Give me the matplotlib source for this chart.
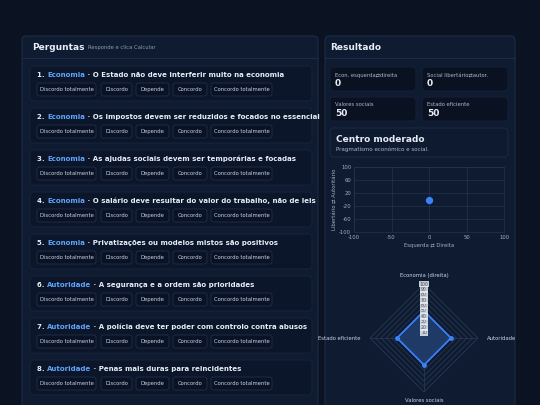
import numpy as np
import matplotlib
matplotlib.use("Agg")
import matplotlib.pyplot as plt
from matplotlib.patches import FancyBboxPatch

plt.rcParams["axes.unicode_minus"] = False

# dados
categorias = ["Economia"] * 5 + ["Autoridade"] * 3
perguntas = [
    "O Estado não deve interferir muito na economia",
    "Os impostos devem ser reduzidos e focados no essencial",
    "As ajudas sociais devem ser temporárias e focadas",
    "O salário deve resultar do valor do trabalho, não de leis",
    "Privatizações ou modelos mistos são positivos",
    "A segurança e a ordem são prioridades",
    "A polícia deve ter poder com controlo contra abusos",
    "Penas mais duras para reincidentes",
]
opcoes = ["Discordo totalmente", "Discordo", "Depende", "Concordo", "Concordo totalmente"]
stat_nomes = ["Econ. esquerda⇄direita", "Social libertário⇄autor.", "Valores sociais", "Estado eficiente"]
stat_valores = [0, 0, 50, 50]
ponto_x = [0]
ponto_y = [0]
radar_eixos = ["Economia (direita)", "Estado eficiente", "Valores sociais", "Autoridade"]
radar_valores = [50, 50, 50, 50]

bg = "#0b1322"
painel = "#0f1b31"
card = "#0c162a"
borda = "#22324d"
azul = "#3b82f6"
txt = "#e6edf7"
sub = "#8a9bb5"

fig = plt.figure(figsize=(5.4, 4.05), dpi=100)
fig.patch.set_facecolor(bg)
ov = fig.add_axes([0, 0, 1, 1])
ov.set_xlim(0, 540)
ov.set_ylim(405, 0)
ov.axis("off")
ov.set_zorder(0)

def caixa(x0, y0, x1, y1, fc, ec=borda, r=4, lw=0.6):
    ov.add_patch(FancyBboxPatch((x0, y0), x1 - x0, y1 - y0,
                                boxstyle="round,pad=0,rounding_size=%g" % r,
                                fc=fc, ec=ec, lw=lw))

# painel esquerdo
caixa(22, 36, 318, 420, painel)
ov.text(32, 48, "Perguntas", color=txt, fontsize=6.5, fontweight="bold", va="center")
ov.text(88, 48, "Responde e clica Calcular", color=sub, fontsize=3.8, va="center")
ov.plot([22, 318], [58, 58], color=borda, lw=0.5)

bx = [(37, 96), (101, 132), (136, 169), (173, 207), (211, 272)]
for i, (cat, q) in enumerate(zip(categorias, perguntas)):
    y0 = 66 + i * 42
    caixa(30, y0, 312, y0 + 35, card, ec="#18253d")
    t = ov.text(37, y0 + 9, "%d. " % (i + 1), color=txt, fontsize=5, fontweight="bold", va="center")
    t2 = ov.annotate(cat, xycoords=t, xy=(1, 0.5), va="center", color="#60a5fa",
                     fontsize=5, fontweight="bold")
    ov.annotate(" · " + q, xycoords=t2, xy=(1, 0.5), va="center", color=txt,
                fontsize=5, fontweight="bold")
    for (a, b), o in zip(bx, opcoes):
        caixa(a, y0 + 17, b, y0 + 30, "#0a1326", ec="#24344f", r=2.5, lw=0.5)
        ov.text((a + b) / 2, y0 + 23.5, o, color="#c9d4e5", fontsize=3.8, ha="center", va="center")

# painel direito
caixa(325, 36, 515, 420, painel)
ov.text(330, 48, "Resultado", color=txt, fontsize=6.5, fontweight="bold", va="center")
ov.plot([325, 515], [58, 58], color=borda, lw=0.5)
pos = [(330, 67), (422, 67), (330, 97), (422, 97)]
for (x, y), n, v in zip(pos, stat_nomes, stat_valores):
    caixa(x, y, x + 86, y + 24, "#0a1222", ec="#16223a")
    ov.text(x + 5, y + 8, n, color="#aab7cb", fontsize=3.8, va="center")
    ov.text(x + 5, y + 17, str(v), color=txt, fontsize=6.5, fontweight="bold", va="center")
caixa(330, 128, 508, 157, "#0d1a30", ec="#1d2c47")
ov.text(336, 139, "Centro moderado", color=txt, fontsize=6.5, fontweight="bold", va="center")
ov.text(336, 149, "Pragmatismo económico e social.", color="#aab7cb", fontsize=4, va="center")

# dispersão
ax = fig.add_axes([354 / 540, 1 - 232 / 405, 150 / 540, 65 / 405])
ax.set_facecolor("none")
ax.scatter(ponto_x, ponto_y, s=18, color=azul, zorder=3)
ax.set_xlim(-100, 100)
ax.set_ylim(-100, 100)
ax.set_xticks([-100, -50, 0, 50, 100])
ax.set_yticks([-100, -60, -20, 20, 60, 100])
ax.grid(color="#24344f", lw=0.5)
for s in ax.spines.values():
    s.set_color("#24344f")
    s.set_linewidth(0.5)
ax.tick_params(colors="#9fb0c8", labelsize=3.8, length=0, pad=2)
ax.set_xlabel("Esquerda ⇄ Direita", color="#9fb0c8", fontsize=3.8, labelpad=2)
ax.set_ylabel("Libertário ⇄ Autoritário", color="#9fb0c8", fontsize=3.8, labelpad=2)

# radar
cx, cy, R = 424, 338, 54
rax = fig.add_axes([(cx - R) / 540, 1 - (cy + R) / 405, 2 * R / 540, 2 * R / 405], projection="polar")
rax.set_facecolor("none")
rax.set_theta_offset(np.pi / 2)
ang = np.array([0, np.pi / 2, np.pi, 3 * np.pi / 2])
rax.set_ylim(0, 100)
rax.grid(False)
rax.spines["polar"].set_visible(False)
rax.set_xticks([])
rax.set_yticks([])
for r in range(10, 101, 10):
    rax.plot(np.append(ang, ang[0]), [r] * 5, color="#2a3b58", lw=0.5)
for a in ang:
    rax.plot([a, a], [0, 100], color="#2a3b58", lw=0.5)
vals = np.append(radar_valores, radar_valores[0])
rax.fill(np.append(ang, ang[0]), vals, color=azul, alpha=0.3)
rax.plot(np.append(ang, ang[0]), vals, color=azul, lw=1.2, marker="o", ms=2.5)
for r in range(10, 101, 10):
    rax.text(0, r, str(r), fontsize=3.3, color="#555", ha="center", va="center",
             bbox=dict(fc="#e8ecf2", ec="none", pad=0.6, alpha=0.85))
ov.text(cx, cy - R - 8, radar_eixos[0], color="#c9d4e5", fontsize=3.8, ha="center", va="center")
ov.text(cx - R - 10, cy, radar_eixos[1], color="#c9d4e5", fontsize=3.8, ha="right", va="center")
ov.text(cx, cy + R + 9, radar_eixos[2], color="#c9d4e5", fontsize=3.8, ha="center", va="center")
ov.text(cx + R + 9, cy, radar_eixos[3], color="#c9d4e5", fontsize=3.8, ha="left", va="center")

plt.savefig("out.png", dpi=100, facecolor=bg)
plt.close()
